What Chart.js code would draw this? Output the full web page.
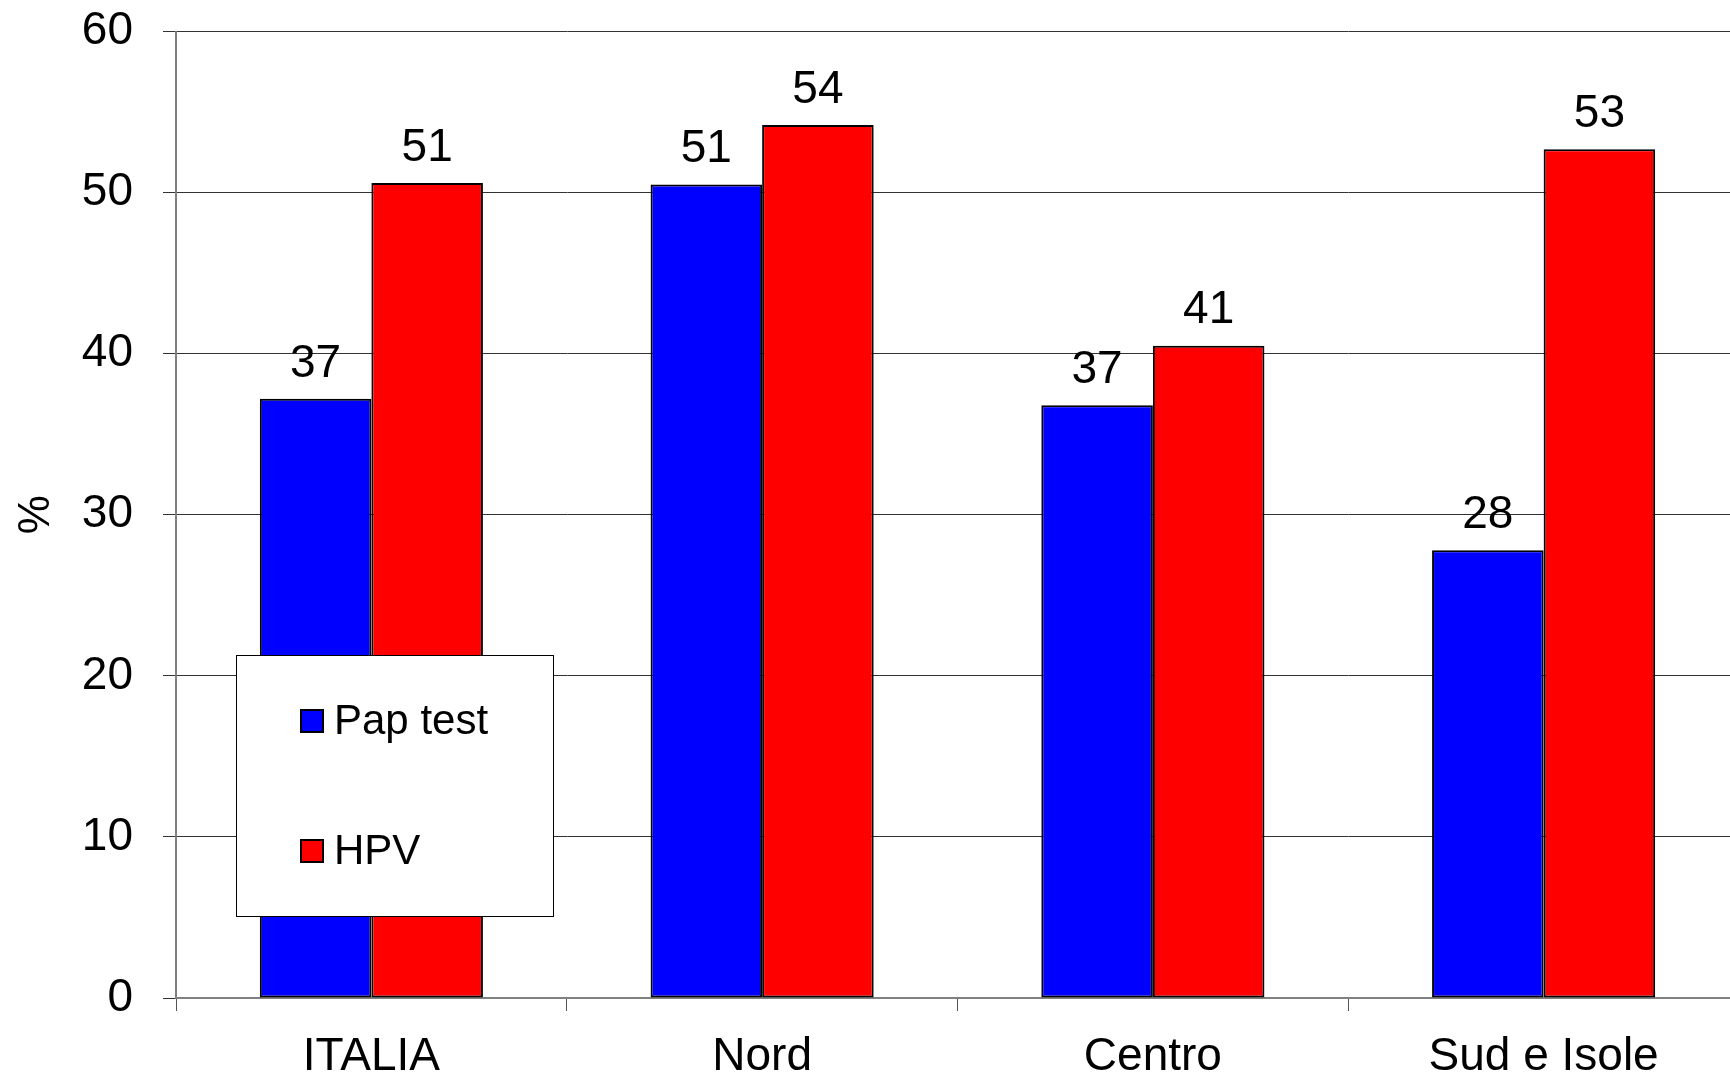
<!DOCTYPE html>
<html>
<head>
<meta charset="utf-8">
<script src="https://cdn.jsdelivr.net/npm/chart.js@4/dist/chart.umd.min.js"></script>
<style>
html, body { margin: 0; padding: 0; background: #fff; overflow: hidden; }
#wrap { width: 1740px; height: 1076px; overflow: hidden; }
#chartScreening { display: block; margin-top: -26px; }
</style>
</head>
<body>
<div id="wrap"><canvas id="chartScreening" width="1740" height="1102"></canvas></div>
<script>
var categories = ['ITALIA', 'Nord', 'Centro', 'Sud e Isole'];
var papTest = [37.2, 50.5, 36.8, 27.8];
var hpv = [50.6, 54.2, 40.5, 52.7];
var yMax = 60;
var yStep = 10;

var fontName = '"Liberation Sans", Arial, sans-serif';

// value labels above each bar
var barLabels = {
    id: 'barLabels',
    afterDatasetsDraw: function(chart) {
        var ctx = chart.ctx;
        ctx.save();
        ctx.font = '46px ' + fontName;
        ctx.fillStyle = '#000';
        ctx.textAlign = 'center';
        ctx.textBaseline = 'middle';
        chart.data.datasets.forEach(function(ds, i) {
            var meta = chart.getDatasetMeta(i);
            meta.data.forEach(function(bar, j) {
                ctx.fillText(Math.round(ds.data[j]), bar.x, bar.y - 35);
            });
        });
        ctx.restore();
    }
};

// boxed legend sitting over the first group (canvas is shifted up 26px)
var boxLegend = {
    id: 'boxLegend',
    afterDraw: function(chart) {
        var ctx = chart.ctx;
        var dy = 26;
        ctx.save();
        ctx.fillStyle = '#fff';
        ctx.strokeStyle = '#000';
        ctx.lineWidth = 1;
        ctx.fillRect(236.5, 655.5 + dy, 317, 261);
        ctx.strokeRect(236.5, 655.5 + dy, 317, 261);
        var rows = [721 + dy, 851 + dy];
        ctx.font = '42px ' + fontName;
        ctx.textBaseline = 'middle';
        ctx.textAlign = 'left';
        chart.data.datasets.forEach(function(ds, i) {
            var cy = rows[i];
            ctx.fillStyle = ds.backgroundColor;
            ctx.fillRect(301, cy - 11, 22, 22);
            ctx.lineWidth = 2;
            ctx.strokeStyle = '#000';
            ctx.strokeRect(301, cy - 11, 22, 22);
            ctx.fillStyle = '#000';
            ctx.fillText(ds.label, 334, cy + 1);
        });
        ctx.restore();
    }
};

var chartScreening = new Chart(document.getElementById('chartScreening'), {
    type: 'bar',
    data: {
        labels: categories,
        datasets: [{
            label: 'Pap test',
            backgroundColor: '#0000ff',
            borderColor: '#000',
            borderWidth: 2,
            borderSkipped: false,
            data: papTest
        }, {
            label: 'HPV',
            backgroundColor: '#ff0000',
            borderColor: '#000',
            borderWidth: 2,
            borderSkipped: false,
            data: hpv
        }]
    },
    options: {
        responsive: false,
        animation: false,
        devicePixelRatio: 1,
        layout: { padding: { left: 0, right: 1, top: 7, bottom: 0 } },
        categoryPercentage: 0.571,
        barPercentage: 1.0,
        plugins: {
            legend: { display: false },
            tooltip: { enabled: false }
        },
        scales: {
            x: {
                grid: {
                    drawOnChartArea: false,
                    offset: true,
                    tickLength: 13,
                    color: '#555'
                },
                border: { color: '#808080', width: 2 },
                ticks: {
                    color: '#000',
                    padding: 19,
                    font: { family: fontName, size: 46 }
                },
                afterFit: function(scale) { scale.height = 78; }
            },
            y: {
                min: 0,
                max: yMax,
                grid: {
                    color: '#333',
                    tickLength: 13
                },
                border: { color: '#808080', width: 2 },
                ticks: {
                    stepSize: yStep,
                    color: '#000',
                    padding: 30,
                    font: { family: fontName, size: 46 }
                },
                title: {
                    display: true,
                    text: '%',
                    color: '#000',
                    padding: { top: 10, bottom: 0 },
                    font: { family: fontName, size: 44 }
                },
                afterFit: function(scale) { scale.width = 176; }
            }
        }
    },
    plugins: [barLabels, boxLegend]
});
</script>
</body>
</html>
